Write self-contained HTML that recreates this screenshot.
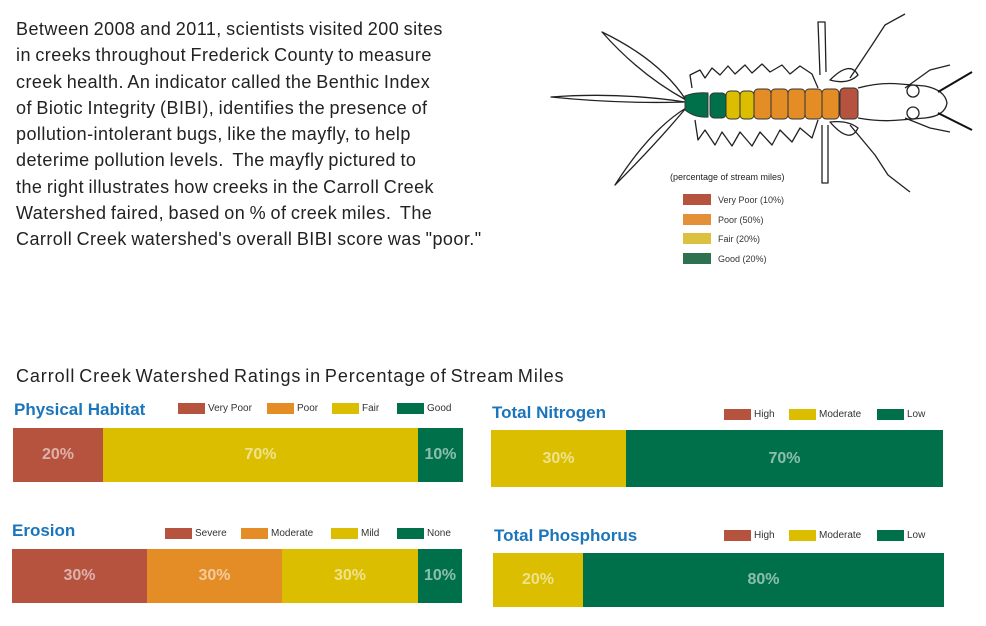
<!DOCTYPE html>
<html><head><style>
body{margin:0;width:986px;height:626px;background:#fff;font-family:"Liberation Sans",sans-serif;position:relative;overflow:hidden}
.p{position:absolute;left:16px;top:16px;font-size:18px;line-height:26.3px;color:#222;width:540px;letter-spacing:0.45px;word-spacing:-1px;white-space:nowrap}
.a{position:absolute}
.t{font-weight:bold;color:#1b75bb;font-size:17px}
.bar{position:absolute;display:flex;color:rgba(255,255,255,0.55);font-weight:bold;font-size:16px}
.bar div{display:flex;align-items:center;justify-content:center}
.lg{position:absolute;font-size:10px;color:#333;display:flex;align-items:center}
.lg span{display:inline-block;width:27px;height:11px;margin-right:3px}
.R{background:#b5533f}.O{background:#e48c25}.Y{background:#dcbe00}.G{background:#00704a}
</style></head><body>
<div class="p">Between 2008 and 2011, scientists visited 200 sites<br>in creeks throughout Frederick County to measure<br>creek health. An indicator called the Benthic Index<br>of Biotic Integrity (BIBI), identifies the presence of<br>pollution-intolerant bugs, like the mayfly, to help<br>deterime pollution levels.&nbsp; The mayfly pictured to<br>the right illustrates how creeks in the Carroll Creek<br>Watershed faired, based on % of creek miles.&nbsp; The<br>Carroll Creek watershed's overall BIBI score was "poor."</div>

<svg class="a" style="left:540px;top:0" width="446" height="290" viewBox="540 0 446 290">
<g fill="none" stroke="#222" stroke-width="1.3" stroke-linejoin="round">
<path d="M551,97 Q620,92 685,102 Q620,104 551,97Z"/>
<path d="M602,32 Q660,60 686,100 Q640,75 602,32Z"/>
<path d="M615,185 Q650,130 686,108 Q655,145 615,185Z"/>
<path d="M692,88 L690,75 L700,70 L705,78 L712,68 L720,75 L728,66 L735,74 L745,65 L752,73 L762,64 L770,72 L782,65 L790,74 L800,66 L812,74 L818,88"/>
<path d="M695,120 L698,140 L705,130 L715,145 L722,132 L732,146 L740,132 L752,146 L760,132 L772,145 L780,130 L792,142 L800,128 L812,138 L818,120"/>
<path d="M858,88 Q880,82 900,84 L925,86 Q945,90 947,103 Q945,116 925,118 L900,120 Q880,122 858,118"/>
<path d="M820,75 L818,22 L825,22 L826,72 M822,125 L822,183 L828,183 L828,125"/>
<path d="M850,78 L872,45 L885,25 L905,14 M850,125 L875,155 L888,175 L910,192"/>
<path d="M830,80 Q850,60 858,75 Q848,85 830,80Z M830,122 Q850,145 858,128 Q848,120 830,122Z"/>
<path d="M905,88 L930,70 L950,65 M905,118 L930,128 L950,132"/>
<circle cx="913" cy="91" r="6"/><circle cx="913" cy="113" r="6"/>
</g>
<path d="M938,92 L972,72 M938,113 L972,130" stroke="#111" stroke-width="2"/>
<g stroke="#333" stroke-width="1">
<path d="M685,96 Q695,92 708,93 L708,117 Q695,118 685,110Z" fill="#00704a"/>
<rect x="710" y="93" width="16" height="25" rx="4" fill="#00704a"/>
<rect x="726" y="91" width="14" height="28" rx="4" fill="#dcbe00"/>
<rect x="740" y="91" width="14" height="28" rx="4" fill="#dcbe00"/>
<rect x="754" y="89" width="17" height="30" rx="4" fill="#e48c25"/>
<rect x="771" y="89" width="17" height="30" rx="4" fill="#e48c25"/>
<rect x="788" y="89" width="17" height="30" rx="4" fill="#e48c25"/>
<rect x="805" y="89" width="17" height="30" rx="4" fill="#e48c25"/>
<rect x="822" y="89" width="17" height="30" rx="4" fill="#e48c25"/>
<rect x="840" y="88" width="18" height="31" rx="4" fill="#b5533f"/>
</g>
<text x="670" y="180" font-size="9" fill="#222" font-family="Liberation Sans">(percentage of stream miles)</text>
<g font-size="9" fill="#333" font-family="Liberation Sans">
<rect x="683" y="194" width="28" height="11" fill="#b5533f"/><text x="718" y="203">Very Poor (10%)</text>
<rect x="683" y="214" width="28" height="11" fill="#e39038"/><text x="718" y="223">Poor (50%)</text>
<rect x="683" y="233" width="28" height="11" fill="#dcc040"/><text x="718" y="242">Fair (20%)</text>
<rect x="683" y="253" width="28" height="11" fill="#2e7150"/><text x="718" y="262">Good (20%)</text>
</g>
</svg>

<div class="a" style="left:16px;top:366px;font-size:18px;color:#222;letter-spacing:0.9px;word-spacing:-2px;white-space:nowrap">Carroll Creek Watershed Ratings in Percentage of Stream Miles</div>

<div class="a t" style="left:14px;top:400px">Physical Habitat</div>
<div class="lg" style="left:178px;top:403px"><span class="R"></span>Very Poor</div>
<div class="lg" style="left:267px;top:403px"><span class="O"></span>Poor</div>
<div class="lg" style="left:332px;top:403px"><span class="Y"></span>Fair</div>
<div class="lg" style="left:397px;top:403px"><span class="G"></span>Good</div>
<div class="bar" style="left:13px;top:428px;width:450px;height:54px"><div class="R" style="width:90px">20%</div><div class="Y" style="width:315px">70%</div><div class="G" style="width:45px">10%</div></div>

<div class="a t" style="left:492px;top:403px">Total Nitrogen</div>
<div class="lg" style="left:724px;top:409px"><span class="R"></span>High</div>
<div class="lg" style="left:789px;top:409px"><span class="Y"></span>Moderate</div>
<div class="lg" style="left:877px;top:409px"><span class="G"></span>Low</div>
<div class="bar" style="left:491px;top:430px;width:452px;height:57px"><div class="Y" style="width:135px">30%</div><div class="G" style="width:317px">70%</div></div>

<div class="a t" style="left:12px;top:521px">Erosion</div>
<div class="lg" style="left:165px;top:528px"><span class="R"></span>Severe</div>
<div class="lg" style="left:241px;top:528px"><span class="O"></span>Moderate</div>
<div class="lg" style="left:331px;top:528px"><span class="Y"></span>Mild</div>
<div class="lg" style="left:397px;top:528px"><span class="G"></span>None</div>
<div class="bar" style="left:12px;top:549px;width:450px;height:54px"><div class="R" style="width:135px">30%</div><div class="O" style="width:135px">30%</div><div class="Y" style="width:136px">30%</div><div class="G" style="width:44px">10%</div></div>

<div class="a t" style="left:494px;top:526px">Total Phosphorus</div>
<div class="lg" style="left:724px;top:530px"><span class="R"></span>High</div>
<div class="lg" style="left:789px;top:530px"><span class="Y"></span>Moderate</div>
<div class="lg" style="left:877px;top:530px"><span class="G"></span>Low</div>
<div class="bar" style="left:493px;top:553px;width:451px;height:54px"><div class="Y" style="width:90px">20%</div><div class="G" style="width:361px">80%</div></div>
</body></html>
